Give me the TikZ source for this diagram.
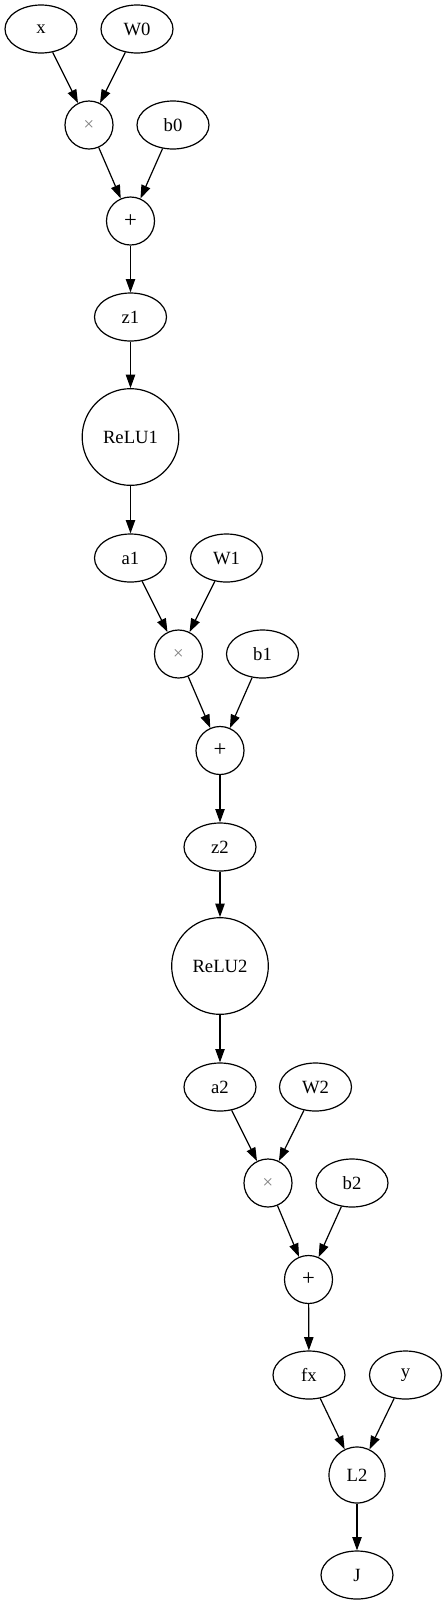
\documentclass[tikz,border=0pt]{standalone}
\usepackage{fontspec}
\setmainfont{Liberation Serif}
\usetikzlibrary{arrows.meta,shapes.geometric}

\begin{document}
\begin{tikzpicture}[x=0.75pt,y=-0.75pt,
      var/.style={ellipse,draw,line width=0.9pt,minimum width=54pt,minimum height=36pt,
      inner sep=0pt,font=\fontsize{14}{16}\selectfont},
      op/.style={circle,draw,line width=0.9pt,minimum size=36pt,inner sep=0pt,
      font=\fontsize{14}{16}\selectfont},
      mulop/.style={op,text=gray},
      addop/.style={op,font=\fontsize{17}{19}\selectfont},
      act/.style={op,minimum size=72.5pt},
      arr/.style={-{Triangle[length=10pt,width=7pt]},line width=0.9pt}]
      \useasboundingbox (0,0) rectangle (447,1604);
      \node[var] (x) at (41,29) {x};
      \node[var] (W0) at (137,29) {W0};
      \node[mulop] (mul0) at (89,125) {×};
      \node[var] (b0) at (173,125) {b0};
      \node[addop] (add0) at (130.5,221) {+};
      \node[var] (z1) at (130.5,317) {z1};
      \node[act] (relu1) at (130.5,437) {ReLU1};
      \node[var] (a1) at (130.5,558) {a1};
      \node[var] (W1) at (226.5,558) {W1};
      \node[mulop] (mul1) at (178.5,654) {×};
      \node[var] (b1) at (262.5,654) {b1};
      \node[addop] (add1) at (220,750.5) {+};
      \node[var] (z2) at (220,847) {z2};
      \node[act] (relu2) at (220,966) {ReLU2};
      \node[var] (a2) at (220,1087) {a2};
      \node[var] (W2) at (315.5,1087) {W2};
      \node[mulop] (mul2) at (268,1183) {×};
      \node[var] (b2) at (352,1183) {b2};
      \node[addop] (add2) at (308.5,1279.5) {+};
      \node[var] (fx) at (309,1375) {fx};
      \node[var] (y) at (405.5,1375) {y};
      \node[op,minimum size=42pt] (L2) at (357,1475) {L2};
      \node[var] (J) at (357,1575) {J};
      \draw[arr] (x)--(mul0);
      \draw[arr] (W0)--(mul0);
      \draw[arr] (mul0)--(add0);
      \draw[arr] (b0)--(add0);
      \draw[arr] (add0)--(z1);
      \draw[arr] (z1)--(relu1);
      \draw[arr] (relu1)--(a1);
      \draw[arr] (a1)--(mul1);
      \draw[arr] (W1)--(mul1);
      \draw[arr] (mul1)--(add1);
      \draw[arr] (b1)--(add1);
      \draw[arr] (add1)--(z2);
      \draw[arr] (z2)--(relu2);
      \draw[arr] (relu2)--(a2);
      \draw[arr] (a2)--(mul2);
      \draw[arr] (W2)--(mul2);
      \draw[arr] (mul2)--(add2);
      \draw[arr] (b2)--(add2);
      \draw[arr] (add2)--(fx);
      \draw[arr] (fx)--(L2);
      \draw[arr] (y)--(L2);
      \draw[arr] (L2)--(J);
    \end{tikzpicture}
\end{document}
